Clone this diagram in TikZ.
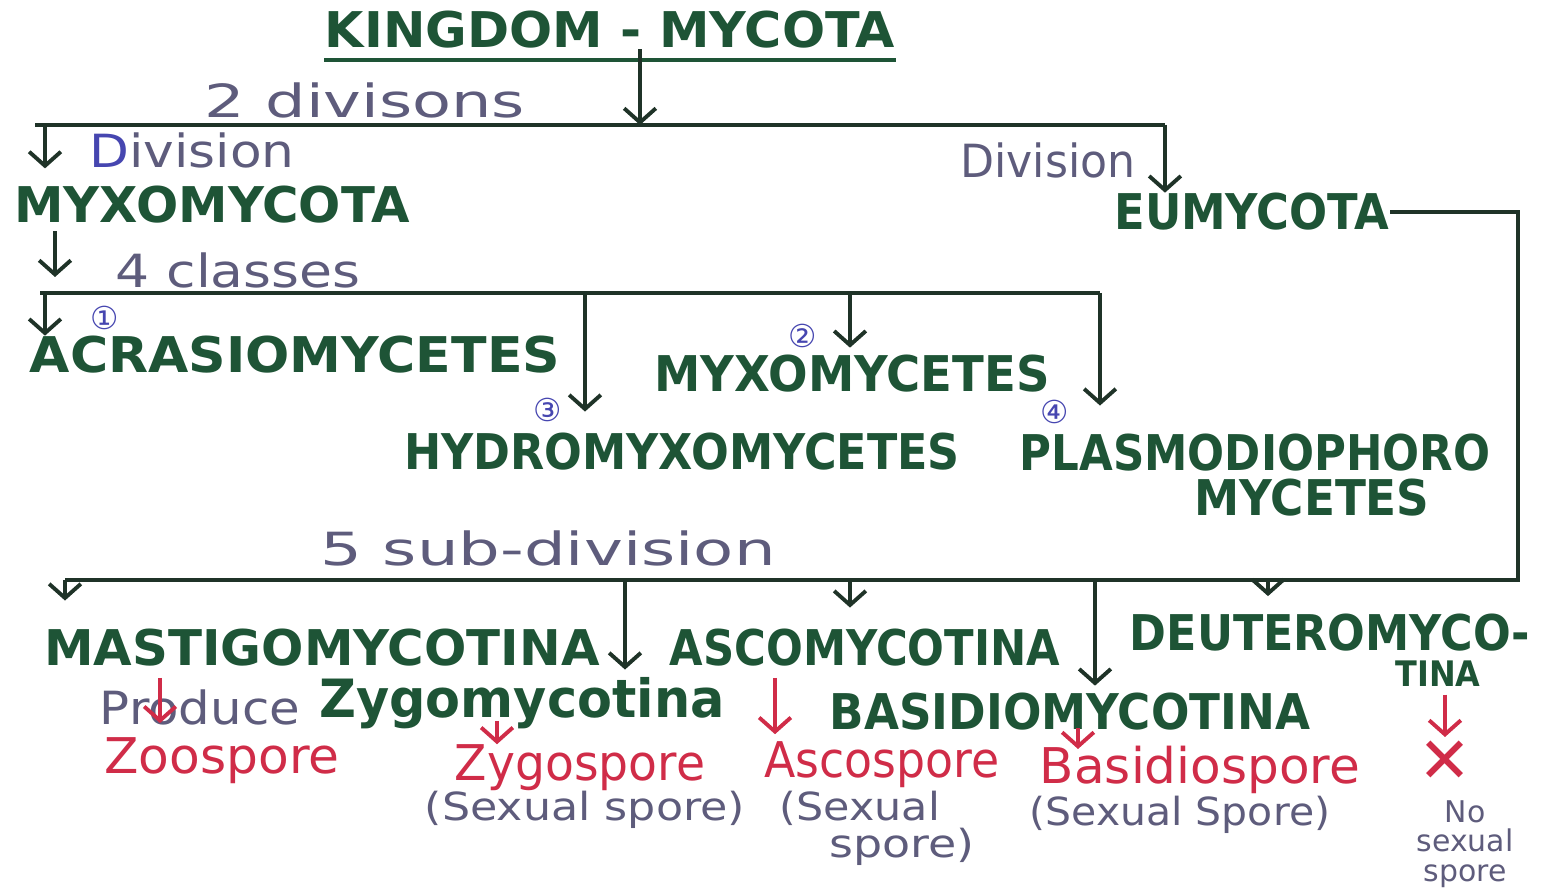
\documentclass[tikz,border=0pt]{standalone}
\usepackage{fontspec}
\setmainfont{DejaVu Sans}
\usetikzlibrary{arrows.meta}
\definecolor{dgreen}{HTML}{1E5436}
\definecolor{lineg}{HTML}{1F3328}
\definecolor{labc}{HTML}{5E5C7C}
\definecolor{blu}{HTML}{4646B0}
\definecolor{redc}{HTML}{D02C48}
\newcommand\wb[2]{\resizebox{#1}{\height}{#2}}
\tikzset{
  capt/.style={inner sep=0pt, text=dgreen, font=\fontsize{14}{16}\selectfont\bfseries},
  lab/.style={inner sep=0pt, text=labc, font=\fontsize{13}{15}\selectfont},
  smalltxt/.style={inner sep=0pt, text=labc, font=\fontsize{11}{13}\selectfont},
  tinytxt/.style={inner sep=0pt, text=labc, font=\fontsize{8.5}{8.3}\selectfont},
  redt/.style={inner sep=0pt, text=redc, font=\fontsize{14}{16}\selectfont},
  num/.style={inner sep=0pt, text=blu, font=\fontsize{9}{10}\selectfont},
  conn/.style={draw=lineg, line width=1.1pt},
  arr/.style={conn, -{Straight Barb[length=4pt,width=9pt,line width=1.1pt]}},
  rarr/.style={draw=redc, line width=1.1pt, -{Straight Barb[length=4pt,width=9pt,line width=1.1pt]}},
}
\begin{document}
\begin{tikzpicture}[x=0.01cm,y=-0.01cm]
\useasboundingbox[fill=white] (0,0) rectangle (1547,891);

% title
\node[capt] (king) at (610,30) {\wb{5.7cm}{KINGDOM - MYCOTA}};
\draw[dgreen, line width=1.2pt] ([yshift=-3pt]king.south west) -- ([yshift=-3pt]king.south east);

% division bus
\coordinate (b1) at (640,125);
\coordinate (b1L) at (45,125);
\coordinate (b1R) at (1165,125);
\draw[arr] (king.south -| b1) -- (b1);
\draw[conn] (35,125) -- (b1R);

\node[lab] (l2div) at (365,100) {\wb{3.2cm}{2 divisons}};
\node[lab] (divL) at (192,150) {\wb{2.05cm}{\textcolor{blu}{D}ivision}};
\node[lab] (divR) at (1048,160) {\wb{1.75cm}{Division}};

\node[capt] (myxo) at (212,205) {\wb{3.95cm}{MYXOMYCOTA}};
\node[capt] (eumy) at (1252,212) {\wb{2.75cm}{EUMYCOTA}};

\draw[arr] (b1L) -- (divL.south -| b1L);
\draw[arr] (b1R) -- (eumy.north -| b1R);

% classes bus
\coordinate (m1) at (55,0);
\coordinate (b2L) at (45,293);
\coordinate (c2) at (585,293);
\coordinate (c3) at (850,293);
\coordinate (c4) at (1100,293);
\node[lab] (l4cl) at (238,270) {\wb{2.45cm}{4 classes}};
\draw[arr] ([yshift=-2pt]myxo.south -| m1) -- (55,277);
\draw[conn] (40,293) -- (c4);

\node[capt] (acra) at (295,355) {\wb{5.3cm}{ACRASIOMYCETES}};
\node[capt] (myce) at (852,374) {\wb{3.95cm}{MYXOMYCETES}};
\node[capt] (hydr) at (682,452) {\wb{5.55cm}{HYDROMYXOMYCETES}};
\node[capt] (plas) at (1255,453) {\wb{4.7cm}{PLASMODIOPHORO}};
\node[capt] (plas2) at (1312,498) {\wb{2.35cm}{MYCETES}};

\node[num] (n1) at (105,318) {①};
\node[num] (n2) at (803,336) {②};
\node[num] (n3) at (548,410) {③};
\node[num] (n4) at (1055,412) {④};

\draw[arr] (b2L) -- (acra.north -| b2L);
\draw[arr] (c2) -- ([yshift=6pt]hydr.north -| c2);
\draw[arr] (c3) -- ([yshift=2pt]myce.north -| c3);
\draw[arr] (c4) -- ([yshift=8pt]plas.north -| c4);

% sub-division bus
\coordinate (eR) at (1518,212);
\coordinate (b3R) at (1518,580);
\coordinate (s1) at (65,580);
\coordinate (s2) at (625,580);
\coordinate (s3) at (850,580);
\coordinate (s4) at (1095,580);
\coordinate (s5) at (1268,580);
\draw[conn] (eumy.east) -- (eR) -- (b3R) -- (s1);
\node[lab] (l5sd) at (548,548) {\wb{4.55cm}{5 sub-division}};

\node[capt] (mast) at (322,648) {\wb{5.55cm}{MASTIGOMYCOTINA}};
\node[capt] (asco) at (865,648) {\wb{3.9cm}{ASCOMYCOTINA}};
\node[capt] (deut) at (1330,633) {\wb{4.0cm}{DEUTEROMYCO-}};
\node[capt, font=\fontsize{10}{12}\selectfont\bfseries] (deut2) at (1438,674) {\wb{0.85cm}{TINA}};
\node[capt, font=\fontsize{15}{17}\selectfont\bfseries] (zygo) at (522,703) {\wb{4.05cm}{Zygomycotina}};
\node[capt] (basi) at (1070,712) {\wb{4.8cm}{BASIDIOMYCOTINA}};

\draw[arr] (s1) -- ([yshift=8pt]mast.north -| s1);
\draw[arr] (s2) -- ([yshift=2pt]zygo.north -| s2);
\draw[arr] (s3) -- ([yshift=6pt]asco.north -| s3);
\draw[arr] (s4) -- ([yshift=2pt]basi.north -| s4);
\draw[arr] (s5) -- ([yshift=5pt]deut.north -| s5);

% spores
\node[lab] (prod) at (200,707) {\wb{2.0cm}{Produce}};
\node[redt] (zoos) at (222,761) {\wb{2.35cm}{Zoospore}};
\node[redt] (zygs) at (580,768) {\wb{2.5cm}{Zygospore}};
\node[smalltxt] (zygx) at (585,810) {\wb{3.2cm}{(Sexual spore)}};
\node[redt] (ascs) at (882,765) {\wb{2.35cm}{Ascospore}};
\node[smalltxt] (ascx) at (860,808) {\wb{1.6cm}{(Sexual}};
\node[smalltxt] (ascx2) at (902,847) {\wb{1.45cm}{spore)}};
\node[redt] (bass) at (1200,770) {\wb{3.2cm}{Basidiospore}};
\node[smalltxt] (basx) at (1180,815) {\wb{3.0cm}{(Sexual Spore)}};
\node[redt, font=\fontsize{18}{20}\selectfont] (none) at (1445,762) {✕};
\node[tinytxt, align=center, anchor=south] (nosx) at (1465,888) {No\\sexual\\spore};

\coordinate (r1) at (160,0);
\coordinate (r2) at (497,0);
\coordinate (r3) at (775,0);
\coordinate (r4) at (1078,0);
\coordinate (r5) at (1445,0);
\draw[rarr] ([yshift=-3pt]mast.south -| r1) -- ([yshift=4pt]zoos.north -| r1);
\draw[rarr] ([yshift=-1pt]zygo.base -| r2) -- ([yshift=0pt]zygs.north -| r2);
\draw[rarr] ([yshift=-3pt]mast.south -| r3) -- ([yshift=2pt]ascs.north -| r3);
\draw[rarr] ([yshift=1pt]basi.south -| r4) -- ([yshift=-1pt]bass.north -| r4);
\draw[rarr] ([yshift=-2pt]deut2.south -| r5) -- ([yshift=1pt]none.north -| r5);
\end{tikzpicture}
\end{document}
